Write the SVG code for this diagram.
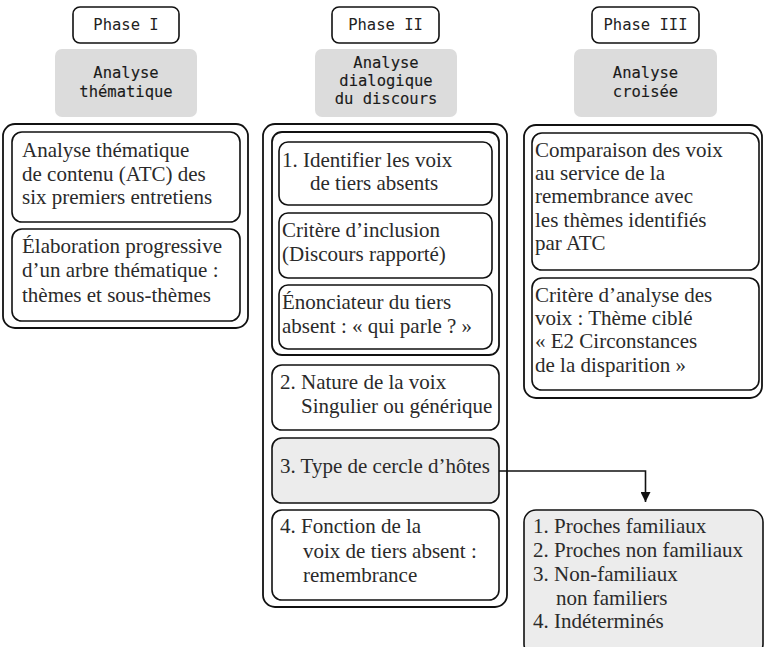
<svg xmlns="http://www.w3.org/2000/svg" width="764" height="647" viewBox="0 0 764 647">
<style>
.ph{fill:#fff;stroke:#111;stroke-width:1.6}
.gr{fill:#dcdcdc;stroke:none}
.fr{fill:#fff;stroke:#111;stroke-width:1.8}
.bx{fill:#fff;stroke:#111;stroke-width:1.6}
.bxg{fill:#ececec;stroke:#111;stroke-width:1.6}
.mono{font-family:"DejaVu Sans Mono",monospace;font-size:15.5px;fill:#222;text-anchor:middle}
.monob{font-family:"DejaVu Sans Mono",monospace;font-size:15.5px;fill:#1a1a1a;text-anchor:middle;stroke:#1a1a1a;stroke-width:0.12}
.sf{font-family:"Liberation Serif","Times New Roman",serif;font-size:21px;fill:#2a2a2a}
.conn{fill:none;stroke:#111;stroke-width:1.6}
</style>
<defs>
<marker id="arr" viewBox="0 0 10 10" refX="10" refY="5" markerWidth="10" markerHeight="10" markerUnits="userSpaceOnUse" orient="auto">
<path d="M0,0 L10,5 L0,10 Z" fill="#111"/>
</marker>
</defs>
<rect width="764" height="647" fill="#fff"/>

<g id="phase1">
<rect class="ph" x="73" y="7" width="106" height="36" rx="7"/>
<text class="mono" x="126" y="30">Phase I</text>
</g>
<g id="head1">
<rect class="gr" x="55" y="49" width="142" height="68" rx="7"/>
<text class="monob" x="126" y="78">Analyse</text>
<text class="monob" x="126" y="97">thématique</text>
</g>
<g id="col1">
<rect class="fr" x="3" y="124" width="245" height="204" rx="12"/>
<g id="c1b1">
<rect class="bx" x="12" y="132" width="228" height="90" rx="10"/>
<text class="sf" x="22" y="157">Analyse thématique</text>
<text class="sf" x="22" y="181">de contenu (ATC) des</text>
<text class="sf" x="22" y="204">six premiers entretiens</text>
</g>
<g id="c1b2">
<rect class="bx" x="12" y="229" width="228" height="92" rx="10"/>
<text class="sf" x="22" y="253">Élaboration progressive</text>
<text class="sf" x="22" y="277">d’un arbre thématique :</text>
<text class="sf" x="22" y="302">thèmes et sous-thèmes</text>
</g>
</g>

<g id="phase2">
<rect class="ph" x="332" y="7" width="107" height="36" rx="7"/>
<text class="mono" x="385.5" y="30">Phase II</text>
</g>
<g id="head2">
<rect class="gr" x="315" y="49" width="142" height="68" rx="7"/>
<text class="monob" x="386" y="68">Analyse</text>
<text class="monob" x="386" y="86">dialogique</text>
<text class="monob" x="386" y="104">du discours</text>
</g>
<g id="col2">
<rect class="fr" x="263" y="124" width="244" height="483" rx="12"/>
<g id="c2frame">
<rect class="fr" x="272" y="132" width="227" height="223" rx="10"/>
<g id="c2b1">
<rect class="bx" x="279" y="142" width="213" height="63" rx="9"/>
<text class="sf" x="282" y="167">1. Identifier les voix</text>
<text class="sf" x="310" y="190">de tiers absents</text>
</g>
<g id="c2b2">
<rect class="bx" x="279" y="213" width="213" height="65" rx="9"/>
<text class="sf" x="282" y="237">Critère d’inclusion</text>
<text class="sf" x="282" y="261">(Discours rapporté)</text>
</g>
<g id="c2b3">
<rect class="bx" x="279" y="285" width="213" height="64" rx="9"/>
<text class="sf" x="282" y="309">Énonciateur du tiers</text>
<text class="sf" x="282" y="333">absent : « qui parle ? »</text>
</g>
</g>
<g id="c2b4">
<rect class="bx" x="272" y="365" width="227" height="65" rx="10"/>
<text class="sf" x="280" y="389">2. Nature de la voix</text>
<text class="sf" x="301" y="413">Singulier ou générique</text>
</g>
<g id="c2b5">
<rect class="bxg" x="272" y="438" width="227" height="65" rx="10"/>
<text class="sf" x="280" y="473">3. Type de cercle d’hôtes</text>
</g>
<g id="c2b6">
<rect class="bx" x="272" y="510" width="227" height="90" rx="10"/>
<text class="sf" x="280" y="533">4. Fonction de la</text>
<text class="sf" x="303" y="558">voix de tiers absent :</text>
<text class="sf" x="303" y="582">remembrance</text>
</g>
</g>

<g id="phase3">
<rect class="ph" x="592" y="7" width="107" height="36" rx="7"/>
<text class="mono" x="645.5" y="30">Phase III</text>
</g>
<g id="head3">
<rect class="gr" x="574" y="49" width="143" height="68" rx="7"/>
<text class="monob" x="645.5" y="78">Analyse</text>
<text class="monob" x="645.5" y="97">croisée</text>
</g>
<g id="col3">
<rect class="fr" x="524" y="125" width="238" height="273" rx="12"/>
<g id="c3b1">
<rect class="bx" x="532" y="133" width="227" height="137" rx="10"/>
<text class="sf" x="535" y="157">Comparaison des voix</text>
<text class="sf" x="535" y="180">au service de la</text>
<text class="sf" x="535" y="203">remembrance avec</text>
<text class="sf" x="535" y="227">les thèmes identifiés</text>
<text class="sf" x="535" y="250">par ATC</text>
</g>
<g id="c3b2">
<rect class="bx" x="532" y="278" width="227" height="112" rx="10"/>
<text class="sf" x="535" y="302">Critère d’analyse des</text>
<text class="sf" x="535" y="325">voix : Thème ciblé</text>
<text class="sf" x="535" y="348">« E2 Circonstances</text>
<text class="sf" x="535" y="372">de la disparition »</text>
</g>
</g>

<g id="result">
<rect class="bxg" x="524" y="510" width="239" height="146" rx="12"/>
<text class="sf" x="533" y="533">1. Proches familiaux</text>
<text class="sf" x="533" y="557">2. Proches non familiaux</text>
<text class="sf" x="533" y="581">3. Non-familiaux</text>
<text class="sf" x="556" y="605">non familiers</text>
<text class="sf" x="533" y="628">4. Indéterminés</text>
</g>

<g id="connectors">
<path class="conn" d="M499,471 H645.5 V502" marker-end="url(#arr)"/>
</g>
</svg>
